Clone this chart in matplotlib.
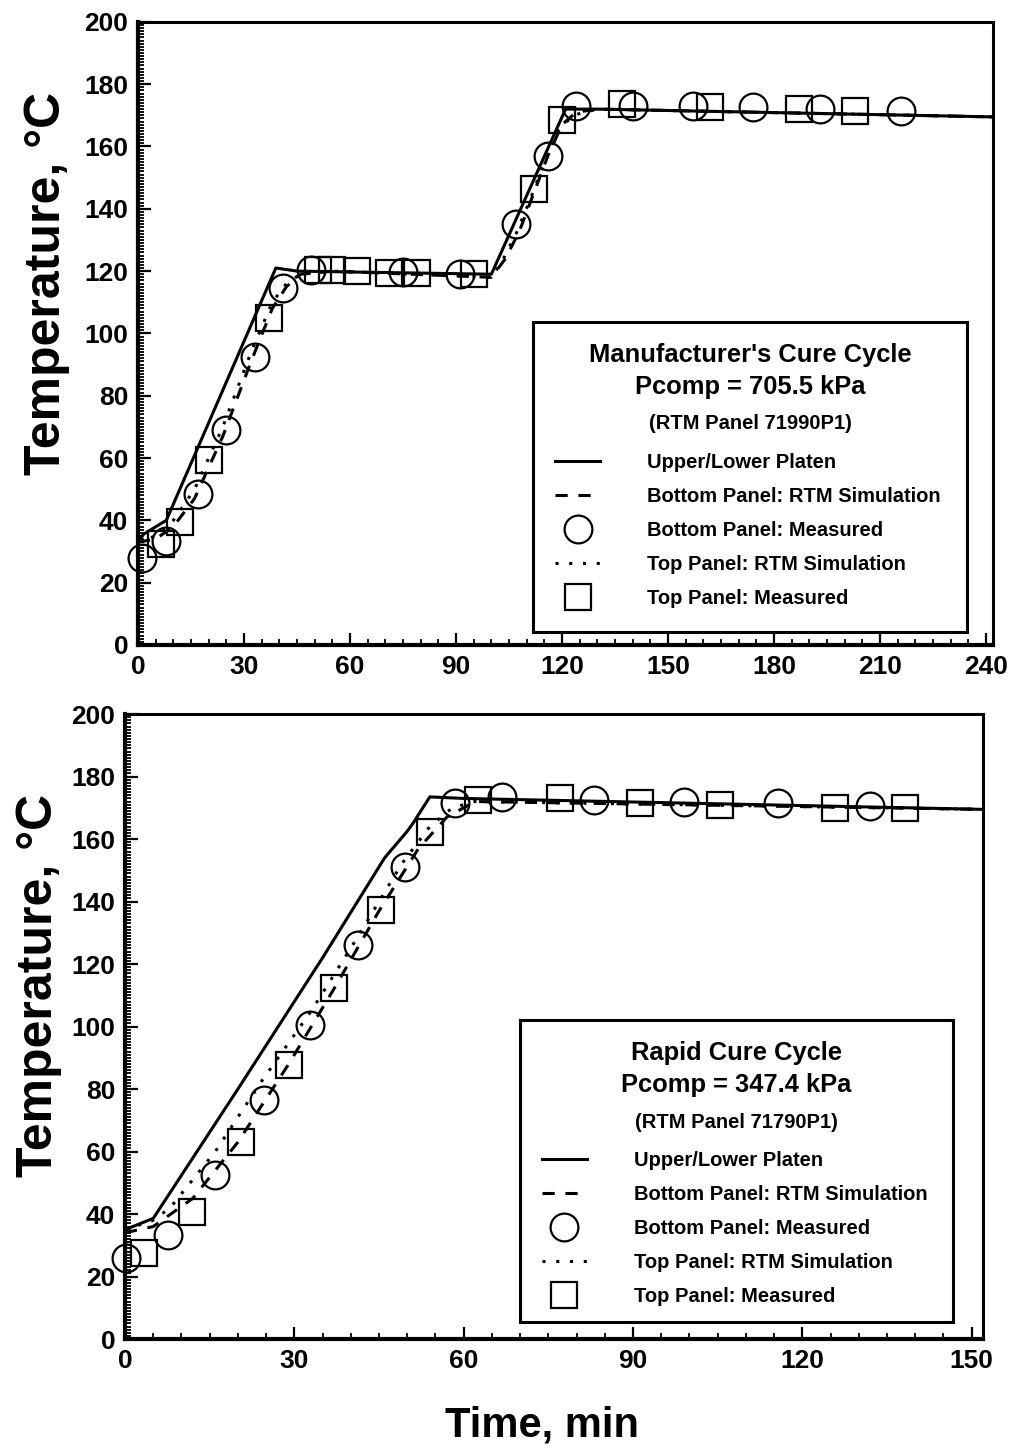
import numpy as np
import matplotlib.pyplot as plt
from matplotlib.ticker import MultipleLocator
from matplotlib.patches import Rectangle

plt.rcParams['font.family'] = ['Liberation Sans', 'DejaVu Sans']
plt.rcParams['font.weight'] = 'bold'

# ---- Manufacturer's cure cycle (top) ----
m_platen_t = [0, 1.5, 8, 39, 45, 100, 121, 130, 242]
m_platen_T = [33, 35.5, 40, 121, 120, 119, 172, 172, 169.5]

m_bot_sim_t = [0, 5, 10, 16, 24, 32, 38, 42, 46, 55, 100, 104, 108, 112, 116, 120, 124, 130, 242]
m_bot_sim_T = [33, 34, 38, 47, 67, 91, 108, 115, 119, 120, 118, 124, 133, 145, 157, 167, 171, 172, 169.5]

m_top_sim_t = [0, 5, 10, 16, 24, 32, 38, 42, 46, 55, 100, 103, 107, 111, 115, 119, 123, 130, 242]
m_top_sim_T = [33, 35, 40, 50, 70, 94, 110, 116, 119, 120, 118, 123, 132, 143, 155, 165, 170, 172, 169.5]

m_bot_meas_t = [1, 8, 17, 25, 33, 41, 49, 75, 91, 107, 116, 124, 140, 157, 174, 193, 216]
m_bot_meas_T = [28, 33.5, 48.5, 69, 92.5, 114.5, 120.5, 119.8, 119, 135, 157, 173, 173, 173, 172.8, 172, 171.5]

m_top_meas_t = [6.5, 12, 20, 37, 51, 55, 62, 71, 79, 95, 112, 120, 137, 162, 187, 203]
m_top_meas_T = [32.5, 39.5, 59.5, 105, 120.5, 120.5, 120, 119.5, 119.3, 119, 146.5, 168.5, 173.5, 172.8, 172, 171.5]

# ---- Rapid cure cycle (bottom) ----
r_platen_t = [0, 5, 20, 35, 46, 50, 51, 54, 60, 152]
r_platen_T = [35, 38.6, 80, 122, 154, 162.5, 165, 173.5, 173, 169.5]

r_bot_sim_t = [0, 5, 12, 20, 29, 37, 45, 52, 57, 62, 152]
r_bot_sim_T = [34, 36, 45, 63, 88, 112, 137, 157, 167, 172, 169.5]

r_top_sim_t = [0, 5, 8, 16, 24, 33, 41, 49, 54, 58, 62, 152]
r_top_sim_T = [35, 38, 42, 60, 82, 105, 128, 152, 164, 170, 172, 169.5]

r_bot_meas_t = [0.2, 7.6, 16, 24.7, 32.7, 41.3, 49.6, 58.5, 66.7, 83, 99, 115.7, 132]
r_bot_meas_T = [25.8, 33.3, 52.5, 76.5, 100.5, 126, 151, 171.4, 173.5, 172.5, 172, 171.4, 170.5]

r_top_meas_t = [3.4, 11.9, 20.5, 29.1, 37.1, 45.4, 54, 62.5, 77, 91.2, 105.4, 125.8, 138.2]
r_top_meas_T = [27.4, 40.7, 63.1, 87.7, 112.2, 137.3, 162.3, 172.5, 173, 171.5, 171, 170, 170]

panels = [
    dict(rect=[0.1356, 0.5549, 0.8399, 0.4300], xmax=242,
         platen=(m_platen_t, m_platen_T), bsim=(m_bot_sim_t, m_bot_sim_T),
         tsim=(m_top_sim_t, m_top_sim_T), bmeas=(m_bot_meas_t, m_bot_meas_T),
         tmeas=(m_top_meas_t, m_top_meas_T),
         box=(0.462, 0.021, 0.508, 0.497), ylab=(-0.080, 0.581),
         head=["Manufacturer's Cure Cycle", "Pcomp = 705.5 kPa", "(RTM Panel 71990P1)"]),
    dict(rect=[0.1228, 0.0759, 0.8428, 0.4313], xmax=152,
         platen=(r_platen_t, r_platen_T), bsim=(r_bot_sim_t, r_bot_sim_T),
         tsim=(r_top_sim_t, r_top_sim_T), bmeas=(r_bot_meas_t, r_bot_meas_T),
         tmeas=(r_top_meas_t, r_top_meas_T),
         box=(0.460, 0.027, 0.505, 0.483), ylab=(-0.074, 0.566),
         head=["Rapid Cure Cycle", "Pcomp = 347.4 kPa", "(RTM Panel 71790P1)"]),
]

labels = ["Upper/Lower Platen", "Bottom Panel: RTM Simulation", "Bottom Panel: Measured",
          "Top Panel: RTM Simulation", "Top Panel: Measured"]

fig = plt.figure(figsize=(10.18, 14.49), dpi=100)

for i, p in enumerate(panels):
    ax = fig.add_axes(p['rect'])
    h1, = ax.plot(*p['platen'], color='black', lw=2.2)
    h2, = ax.plot(*p['bsim'], color='black', lw=2.2, ls=(0, (4, 3.5)))
    h3, = ax.plot(*p['bmeas'], ls='none', marker='o', ms=20, mfc='none', mec='black',
                  mew=1.6, clip_on=False)
    h4, = ax.plot(*p['tsim'], color='black', lw=2.2, ls=(0, (1, 3.5)))
    h5, = ax.plot(*p['tmeas'], ls='none', marker='s', ms=19, mfc='none', mec='black',
                  mew=1.6, clip_on=False)

    ax.set_xlim(0, p['xmax'])
    ax.set_ylim(0, 200)
    ax.xaxis.set_major_locator(MultipleLocator(30))
    ax.xaxis.set_minor_locator(MultipleLocator(5))
    ax.yaxis.set_major_locator(MultipleLocator(20))
    ax.yaxis.set_minor_locator(MultipleLocator(1))
    ax.tick_params(which='major', direction='in', length=9, width=1.6, labelsize=19, pad=7)
    ax.tick_params(which='minor', direction='in', length=4, width=1.3)
    ax.tick_params(top=False, right=False, which='both')
    for lbl in ax.get_xticklabels() + ax.get_yticklabels():
        lbl.set_fontweight('bold')
    for s in ['left', 'bottom']:
        ax.spines[s].set_linewidth(3)
    for s in ['top', 'right']:
        ax.spines[s].set_linewidth(2.2)
    ax.set_ylabel('Temperature, °C', fontsize=36, fontweight='bold')
    ax.yaxis.set_label_coords(*p['ylab'])

    bx, by, bw, bh = p['box']
    ax.add_patch(Rectangle((bx, by), bw, bh, transform=ax.transAxes, fill=True,
                           facecolor='white', edgecolor='black', lw=2.2, zorder=5))
    cx = bx + bw / 2
    top = by + bh
    ax.text(cx, top - 0.053, p['head'][0], transform=ax.transAxes, ha='center',
            va='center', fontsize=18.4, fontweight='bold', zorder=6)
    ax.text(cx, top - 0.1035, p['head'][1], transform=ax.transAxes, ha='center',
            va='center', fontsize=18.4, fontweight='bold', zorder=6)
    ax.text(cx, top - 0.163, p['head'][2], transform=ax.transAxes, ha='center',
            va='center', fontsize=14.5, fontweight='bold', zorder=6)
    leg = ax.legend([h1, h2, h3, h4, h5], labels, loc='upper left',
                    bbox_to_anchor=(bx + 0.0164, top - 0.197), frameon=False,
                    prop={'size': 14.5, 'weight': 'bold'}, handlelength=2.24,
                    handletextpad=2.34, labelspacing=0.74, borderaxespad=0)
    leg.set_zorder(7)

fig.text(0.532, 0.016, 'Time, min', ha='center', va='center', fontsize=30, fontweight='bold')

fig.savefig('out.png', dpi=100)
